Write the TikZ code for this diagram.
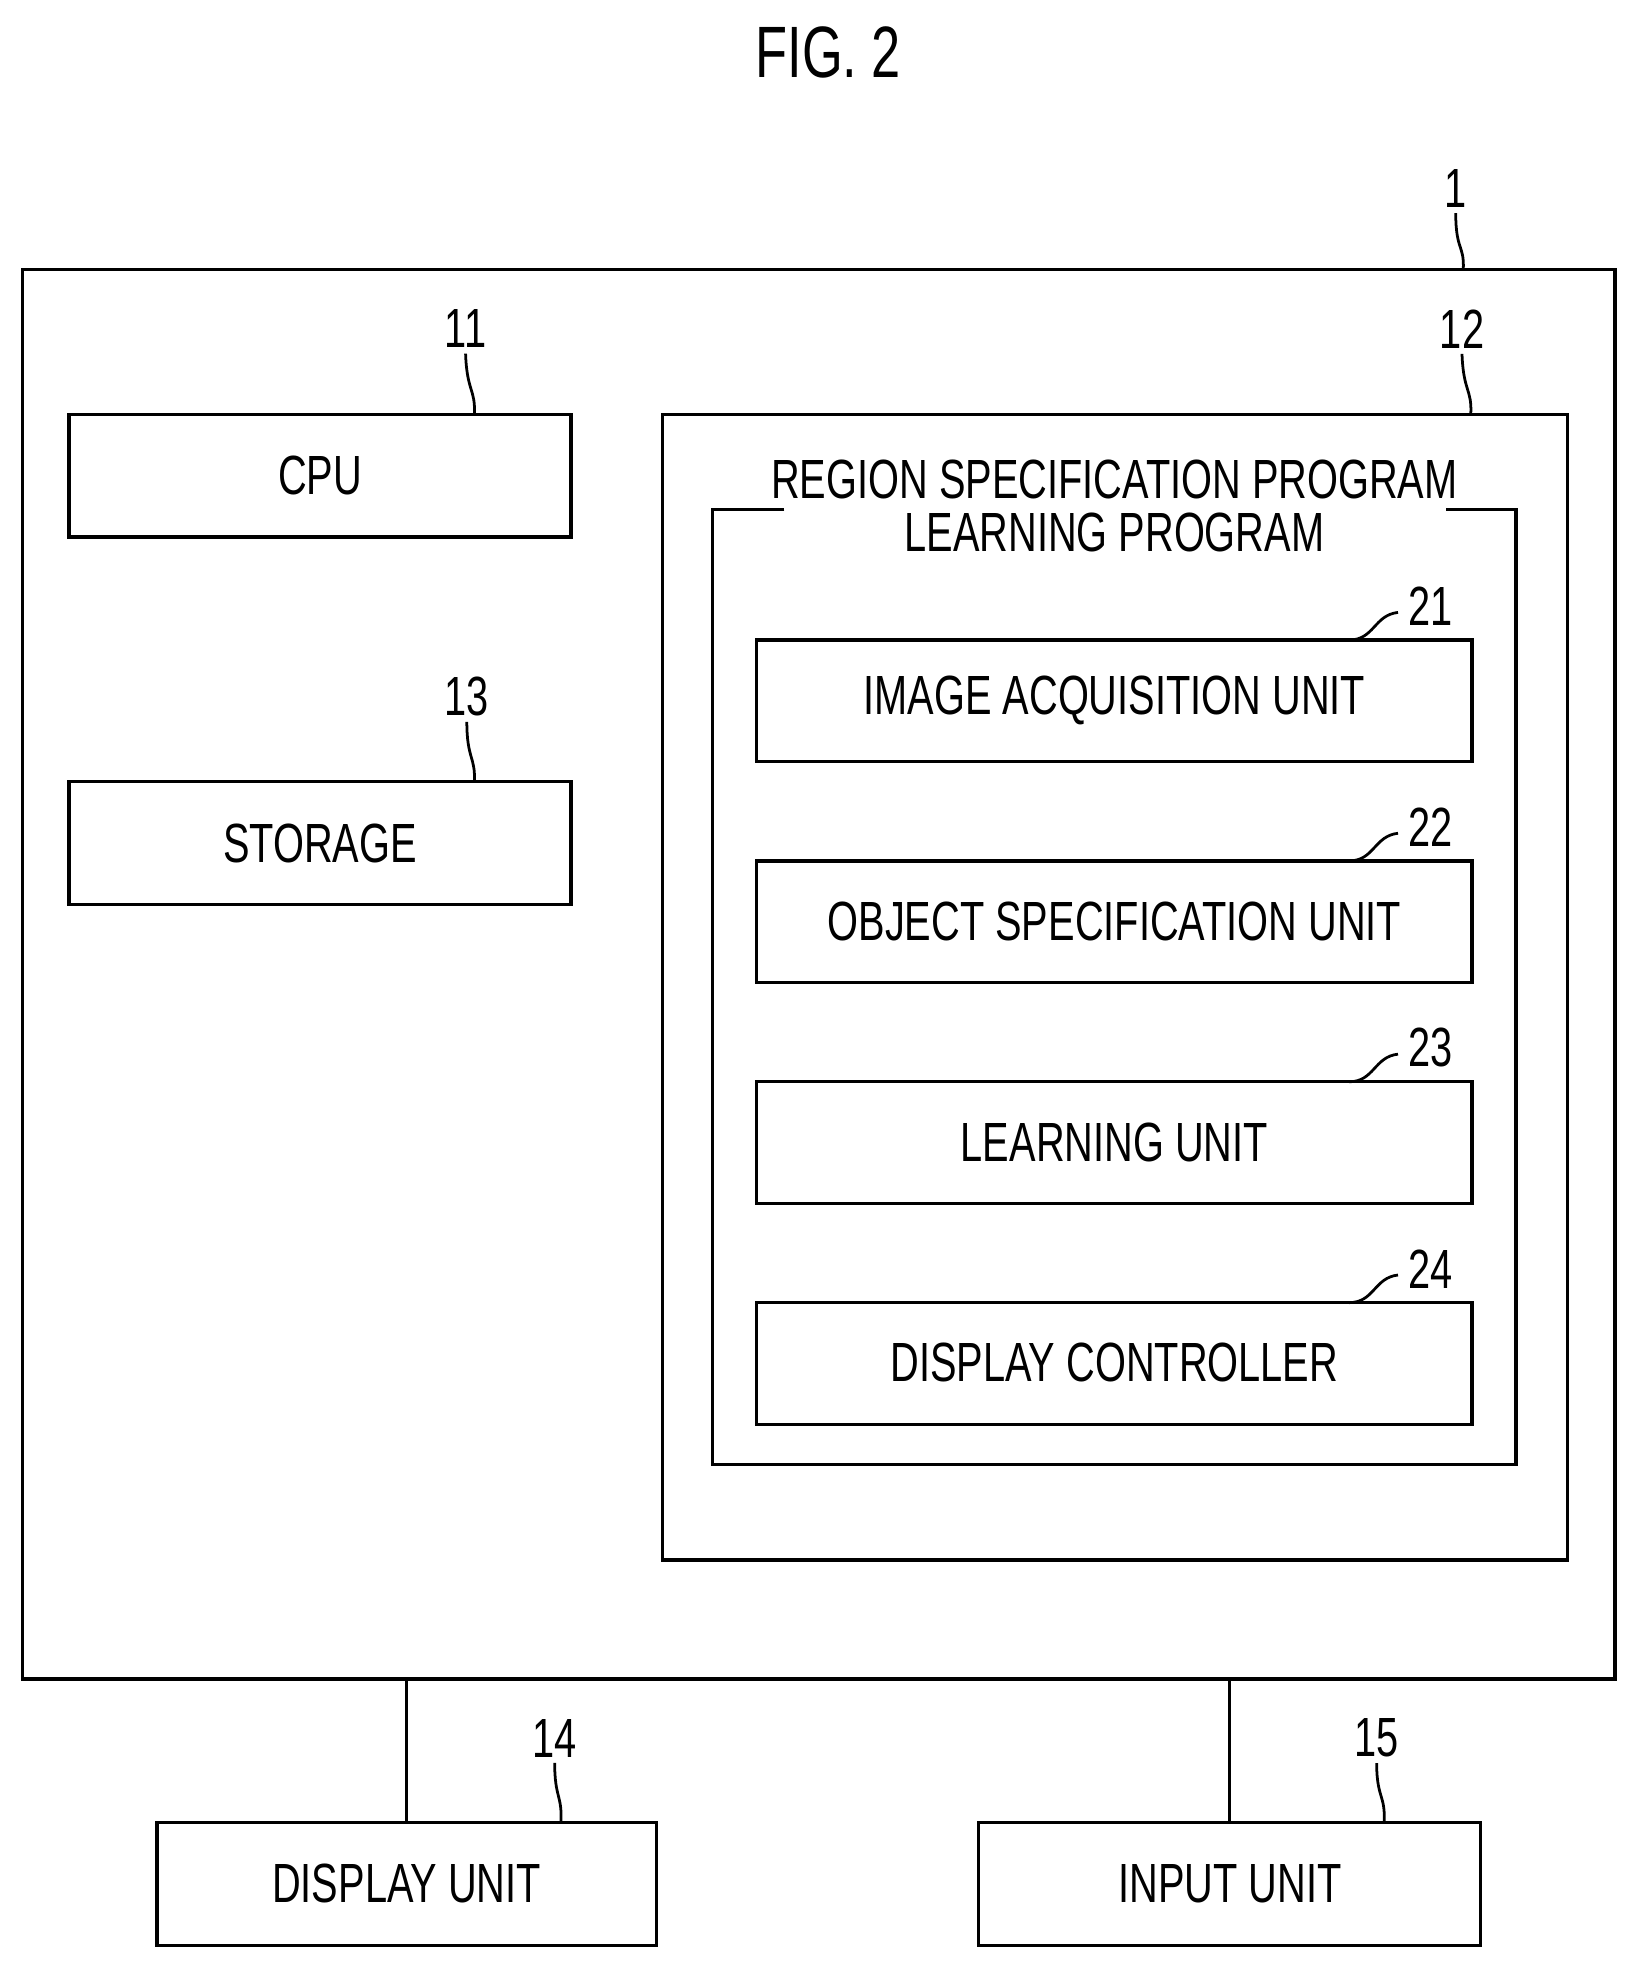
\documentclass[tikz,border=0pt]{standalone}
\usepackage{fontspec}
\setmainfont{Liberation Sans}[FakeStretch=0.72]
\begin{document}
\begin{tikzpicture}[x=1pt,y=-1pt,line width=2.6pt,
 box/.style={draw,line width=2.6pt},
 lab/.style={font=\fontsize{44}{48}\selectfont},
 txt/.style={font=\fontsize{44}{50}\selectfont,align=center},
 lead/.style={line width=2.2pt}]
\useasboundingbox (0,0) rectangle (1305,1569);
\node[font=\fontsize{58}{60}\selectfont] (fig) at (660,42) {FIG. 2};
% outer
\draw[box] (18,215) rectangle (1287,1338);
\node[lab] (l1) at (1160,150) {1};
\coordinate (a1) at (1166,215);
\draw[lead] (l1.south) .. controls (1160,200) and (1167,195) .. (a1);
% CPU
\draw[box] (55,330) rectangle (455,428);
\node[txt] (cpu) at (255,379) {CPU};
\node[lab] (l11) at (371,262) {11};
\coordinate (a11) at (378,330);
\draw[lead] (l11.south) .. controls (372,312) and (379,310) .. (a11);
% storage
\draw[box] (55,623) rectangle (455,721);
\node[txt] (st) at (255,672) {STORAGE};
\node[lab] (l13) at (372,555) {13};
\coordinate (a13) at (378,623);
\draw[lead] (l13.south) .. controls (372,605) and (379,603) .. (a13);
% 12
\draw[box] (528,330) rectangle (1249,1243);
\node[lab] (l12) at (1165,262) {12};
\coordinate (a12) at (1172,330);
\draw[lead] (l12.south) .. controls (1166,312) and (1173,310) .. (a12);
% program box
\draw[box] (625,406) -- (568,406) -- (568,1167) -- (1208,1167) -- (1208,406) -- (1152,406);
\node[txt] (prog) at (888,403) {REGION SPECIFICATION PROGRAM\\[-8pt]LEARNING PROGRAM};
% units
\foreach \y/\t/\n in {510/IMAGE ACQUISITION UNIT/21,686/OBJECT SPECIFICATION UNIT/22,862/LEARNING UNIT/23,1038/DISPLAY CONTROLLER/24}{
 \draw[box] (603,\y) rectangle (1173,\y+97);
 \node[txt] (u\n) at (888,\y+48) {\t};
 \node[lab] (l\n) at (1140,\y-27) {\n};
 \draw[lead] (1075,\y) .. controls (1095,\y) and (1095,\y-20) .. (1114,\y-22);
}
% display / input
\draw[box] (125,1452) rectangle (523,1550);
\node[txt] (du) at (324,1501) {DISPLAY UNIT};
\draw (324,1338) -- (324,1452);
\node[lab] (l14) at (442,1385) {14};
\coordinate (a14) at (447,1452);
\draw[lead] (l14.south) .. controls (442,1433) and (448,1430) .. (a14);
\draw[box] (780,1452) rectangle (1180,1550);
\node[txt] (iu) at (980,1501) {INPUT UNIT};
\draw (980,1338) -- (980,1452);
\node[lab] (l15) at (1097,1385) {15};
\coordinate (a15) at (1103,1452);
\draw[lead] (l15.south) .. controls (1097,1433) and (1104,1430) .. (a15);
\end{tikzpicture}
\end{document}
